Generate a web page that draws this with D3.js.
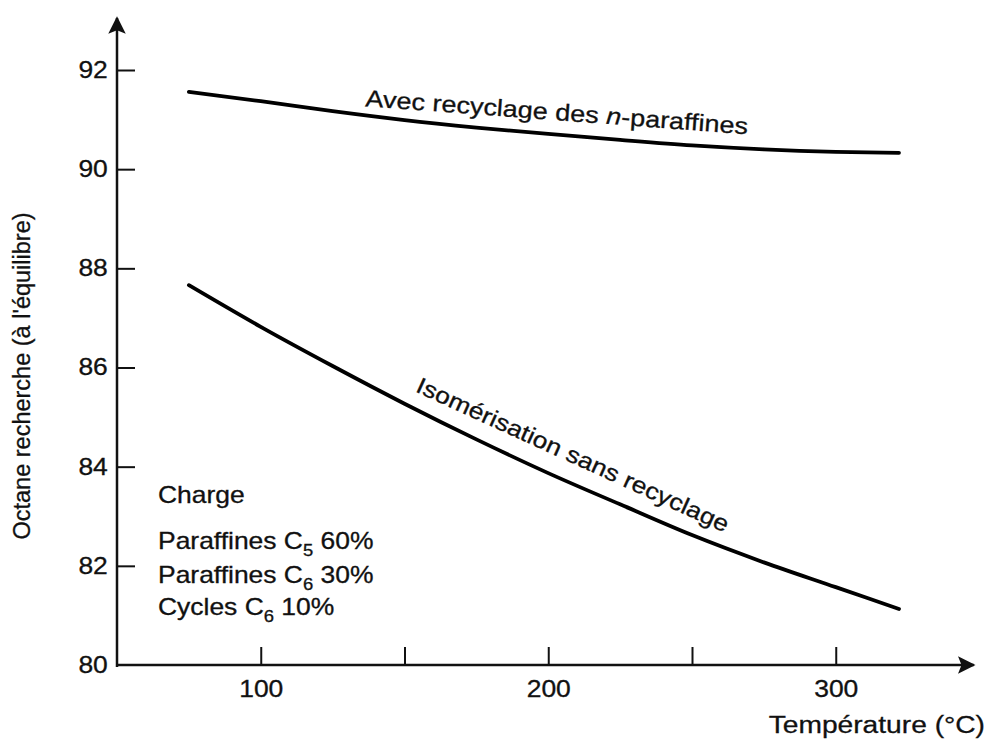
<!DOCTYPE html>
<html>
<head>
<meta charset="utf-8">
<script src="https://cdn.jsdelivr.net/npm/d3@7"></script>
<style>
  body { margin: 0; background: #fff; }
  svg { display: block; }
  text { font-family: "Liberation Sans", Arial, Helvetica, sans-serif; fill: #111; stroke: #111; stroke-width: 0.3px; }
</style>
</head>
<body>
<svg width="988" height="742"></svg>
<script>
// temperatures (°C) where the curves were read
const temps = [75, 100, 125, 150, 175, 200, 225, 250, 275, 300, 322];
// octane with recycling of n-paraffins
const withRecycle = [91.56, 91.37, 91.17, 90.99, 90.84, 90.71, 90.59, 90.48, 90.40, 90.35, 90.33];
// isomerisation without recycling
const noRecycle = [87.66, 86.82, 86.03, 85.27, 84.55, 83.87, 83.24, 82.62, 82.07, 81.57, 81.13];

const yTicks = [80, 82, 84, 86, 88, 90, 92];
const xTicks = [100, 150, 200, 250, 300];
const xLabels = [100, 200, 300];

const chargeLines = [
    { main: "Paraffines C", sub: "5", rest: " 60%" },
    { main: "Paraffines C", sub: "6", rest: " 30%" },
    { main: "Cycles C", sub: "6", rest: " 10%" }
];

// the scanned lettering is a bit wider than the font
const stretch = 1.15;

const svg = d3.select("svg");

const x = d3.scaleLinear().domain([50, 350]).range([117, 979.5]);
const y = d3.scaleLinear().domain([80, 92]).range([665, 70]);

// arrow heads
svg.append("defs").append("marker")
    .attr("id", "arrow")
    .attr("viewBox", "0 0 10 10")
    .attr("refX", 9).attr("refY", 5)
    .attr("markerWidth", 8).attr("markerHeight", 7)
    .attr("markerUnits", "strokeWidth")
    .attr("orient", "auto")
    .append("path")
    .attr("d", "M0,0 L10,5 L0,10 L2,5 Z")
    .attr("fill", "#111");

// axis lines
svg.append("line")
    .attr("x1", x(50)).attr("x2", x(50))
    .attr("y1", y(80) + 2).attr("y2", y(93.05))
    .attr("stroke", "#111").attr("stroke-width", 2.5)
    .attr("marker-end", "url(#arrow)");

svg.append("line")
    .attr("x1", x(50) - 1).attr("x2", x(348))
    .attr("y1", y(80)).attr("y2", y(80))
    .attr("stroke", "#111").attr("stroke-width", 2.5)
    .attr("marker-end", "url(#arrow)");

// y axis ticks, pointing inside
const yAxis = d3.axisLeft(y)
    .tickValues(yTicks)
    .tickSize(-18)
    .tickPadding(8)
    .tickFormat(d3.format("d"));

const gy = svg.append("g")
    .attr("transform", `translate(${x(50)},0)`)
    .call(yAxis);
gy.select(".domain").remove();
gy.selectAll(".tick line").attr("stroke", "#111").attr("stroke-width", 2);
gy.selectAll(".tick text")
    .attr("font-size", 23)
    .attr("font-family", "Liberation Sans, Arial, sans-serif")
    .attr("fill", "#111")
    .attr("transform", `scale(${stretch},1)`);
gy.selectAll(".tick").filter(d => d === 80).select("line").remove();

// x axis ticks, pointing up
const xAxis = d3.axisBottom(x)
    .tickValues(xTicks)
    .tickSize(-18)
    .tickPadding(16)
    .tickFormat(d => xLabels.includes(d) ? d : "");

const gx = svg.append("g")
    .attr("transform", `translate(0,${y(80)})`)
    .call(xAxis);
gx.select(".domain").remove();
gx.selectAll(".tick line").attr("stroke", "#111").attr("stroke-width", 2);
gx.selectAll(".tick text")
    .attr("font-size", 23)
    .attr("font-family", "Liberation Sans, Arial, sans-serif")
    .attr("fill", "#111")
    .attr("transform", `scale(${stretch},1)`);

// axis titles
svg.append("text")
    .attr("transform", `translate(985,733) scale(${stretch},1)`)
    .attr("text-anchor", "end")
    .attr("font-size", 24.5)
    .text("Température (°C)");

svg.append("text")
    .attr("transform", "translate(30,376) rotate(-90)")
    .attr("text-anchor", "middle")
    .attr("font-size", 23.5)
    .text("Octane recherche (à l'équilibre)");

// curves
const line = d3.line()
    .x(d => x(d[0]))
    .y(d => y(d[1]))
    .curve(d3.curveMonotoneX);

[withRecycle, noRecycle].forEach(vals => {
    svg.append("path")
        .datum(temps.map((t, i) => [t, vals[i]]))
        .attr("d", line)
        .attr("fill", "none")
        .attr("stroke", "#000")
        .attr("stroke-width", 3.8)
        .attr("stroke-linecap", "round");
});

// curve labels
const upper = svg.append("text")
    .attr("transform", `translate(${x(136.3)},${y(91.27)}) rotate(4.2) scale(${stretch},1)`)
    .attr("font-size", 23.5);
upper.append("tspan").text("Avec recyclage des ");
upper.append("tspan").attr("font-style", "italic").text("n");
upper.append("tspan").text("-paraffines");

svg.append("text")
    .attr("transform", `translate(${x(153.5)},${y(85.52)}) rotate(24.5) scale(${stretch},1)`)
    .attr("font-size", 23)
    .text("Isomérisation sans recyclage");

// feed composition
svg.append("text")
    .attr("transform", `translate(158,503) scale(${stretch},1)`)
    .attr("font-size", 23)
    .text("Charge");

const rowsY = [549, 583, 615];
chargeLines.forEach((c, i) => {
    const t = svg.append("text")
        .attr("transform", `translate(158,${rowsY[i]}) scale(${stretch},1)`)
        .attr("font-size", 23);
    t.append("tspan").text(c.main);
    t.append("tspan").attr("font-size", 16).attr("dy", 7).text(c.sub);
    t.append("tspan").attr("dy", -7).text(c.rest);
});
</script>
</body>
</html>
